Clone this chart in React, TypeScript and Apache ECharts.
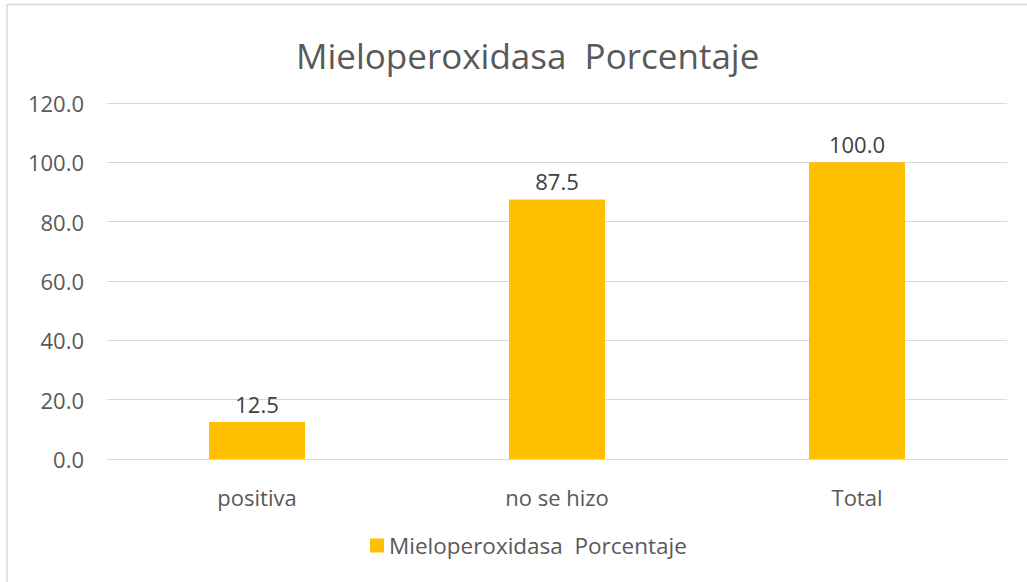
import React, { useEffect, useRef } from "react";
import * as echarts from "echarts";

const categories = ["positiva", "no se hizo", "Total"];
const seriesName = "Mieloperoxidasa  Porcentaje";
const values = [12.5, 87.5, 100.0];
const yMin = 0;
const yMax = 120;
const yInterval = 20;
const titleText = "Mieloperoxidasa  Porcentaje";

export default function App() {
  const ref = useRef<HTMLDivElement>(null);
  useEffect(() => {
    if (!ref.current) return;
    const chart = echarts.init(ref.current, null, { renderer: "svg" });
    const font = "'Open Sans', 'Noto Sans', sans-serif";
    chart.setOption({
      animation: false,
      backgroundColor: "#ffffff",
      textStyle: { fontFamily: font },
      title: {
        text: titleText,
        left: 291,
        top: 33,
        textStyle: { fontFamily: font, fontSize: 35, fontWeight: "normal", color: "#595959" },
      },
      legend: {
        bottom: 20,
        left: 365,
        itemWidth: 14,
        itemHeight: 14,
        icon: "rect",
        data: [seriesName],
        textStyle: { fontFamily: font, fontSize: 22.5, color: "#595959" },
      },
      grid: { left: 107, right: 20, top: 103, bottom: 123, containLabel: false },
      xAxis: {
        type: "category",
        data: categories,
        axisLine: { show: true, lineStyle: { color: "#d9d9d9", width: 1 } },
        axisTick: { show: false },
        axisLabel: { fontFamily: font, fontSize: 22, color: "#595959", margin: 27 },
      },
      yAxis: {
        type: "value",
        min: yMin,
        max: yMax,
        interval: yInterval,
        axisLine: { show: false },
        axisTick: { show: false },
        splitLine: { lineStyle: { color: "#d9d9d9", width: 1 } },
        axisLabel: {
          fontFamily: font,
          fontSize: 22,
          color: "#595959",
          margin: 23,
          formatter: (v: number) => v.toFixed(1),
        },
      },
      series: [
        {
          name: seriesName,
          type: "bar",
          data: values,
          barWidth: 96,
          itemStyle: { color: "#FFC000" },
          label: {
            show: true,
            position: "top",
            distance: 7,
            fontFamily: font,
            fontSize: 22,
            color: "#404040",
            formatter: (p: any) => Number(p.value).toFixed(1),
          },
        },
      ],
      graphic: [
        { type: "line", shape: { x1: 7, y1: 4.5, x2: 1027, y2: 4.5 }, style: { stroke: "#d9d9d9", lineWidth: 1.5 } },
        { type: "line", shape: { x1: 7, y1: 4, x2: 7, y2: 582 }, style: { stroke: "#d9d9d9", lineWidth: 1.5 } },
      ],
    });
    return () => chart.dispose();
  }, []);
  return (
    <div
      ref={ref}
      style={{ position: "absolute", left: 0, top: 0, width: 1027, height: 582 }}
    />
  );
}
